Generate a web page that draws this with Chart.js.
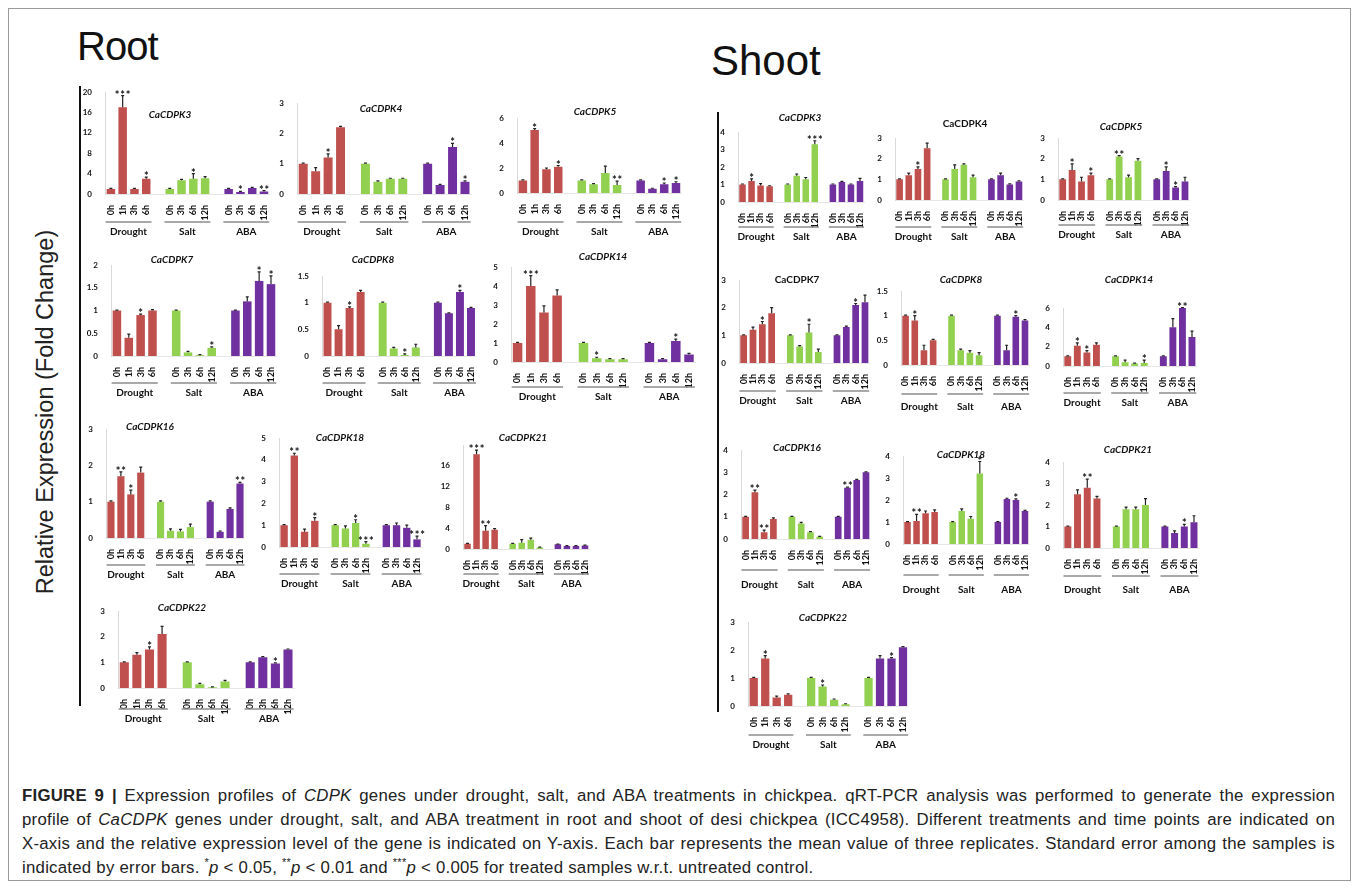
<!DOCTYPE html>
<html>
<head>
<meta charset="utf-8">
<script src="https://cdn.jsdelivr.net/npm/chart.js@4.4.1/dist/chart.umd.min.js"></script>
<style>
  html, body { margin: 0; padding: 0; background: #fff; }
  body { width: 1358px; height: 889px; position: relative; overflow: hidden; font-family: "Liberation Sans", Arial, sans-serif; }
  .frame { position: absolute; left: 8px; top: 8px; width: 1341px; height: 871px; border: 1px solid #9a9a9a; }
  .big { position: absolute; font-size: 40px; color: #111; line-height: 1; }
  .vline { position: absolute; width: 2px; background: #111; }
  .ylab { position: absolute; left: 45px; top: 412px; transform: translate(-50%, -50%) rotate(-90deg); font-size: 23.5px; color: #222; white-space: nowrap; }
  canvas { position: absolute; }
  .cap { position: absolute; left: 22px; font-size: 16.8px; letter-spacing: 0.25px; color: #222; white-space: nowrap; line-height: 20px; }
  .cap.j { width: 1313px; text-align: justify; text-align-last: justify; white-space: normal; }
  .cap b { font-weight: bold; }
  .cap sup { font-size: 11px; line-height: 0; }
</style>
</head>
<body>
<div class="frame"></div>
<div class="big" style="left:77px; top:26px; letter-spacing:-1px;">Root</div>
<div class="big" style="left:711px; top:40px; font-size:42px;">Shoot</div>
<div class="vline" style="left:79px; top:86px; height:620px;"></div>
<div class="vline" style="left:717px; top:112px; height:600px;"></div>
<div class="ylab">Relative Expression (Fold Change)</div>

<div class="cap j" style="top:786px;"><b>FIGURE 9 |</b> Expression profiles of <i>CDPK</i> genes under drought, salt, and ABA treatments in chickpea. qRT-PCR analysis was performed to generate the expression</div>
<div class="cap j" style="top:810px;">profile of <i>CaCDPK</i> genes under drought, salt, and ABA treatment in root and shoot of desi chickpea (ICC4958). Different treatments and time points are indicated on</div>
<div class="cap j" style="top:834px;">X-axis and the relative expression level of the gene is indicated on Y-axis. Each bar represents the mean value of three replicates. Standard error among the samples is</div>
<div class="cap" style="top:858px;">indicated by error bars. <sup>*</sup><i>p</i> &lt; 0.05, <sup>**</sup><i>p</i> &lt; 0.01 and <sup>***</sup><i>p</i> &lt; 0.005 for treated samples w.r.t. untreated control.</div>

<script>
// tick labels (empty slot = gap between treatments)
const timeLabels = ['0h','1h','3h','6h','','0h','3h','6h','12h','','0h','3h','6h','12h'];
const treatments = ['Drought','Salt','ABA'];

// Root - values (Drought 0h,1h,3h,6h | Salt 0h,3h,6h,12h | ABA 0h,3h,6h,12h), errors, stars
const rootK3 = [1.0, 17.0, 1.0, 3.0, 1.0, 2.7, 3.0, 3.1, 1.0, 0.4, 1.2, 0.5];
const rootK3Err = [0.1, 2.3, 0.1, 0.3, 0.1, 0.15, 1.0, 0.3, 0.1, 0.1, 0.1, 0.15];
const rootK3Sig = [0,3,0,1, 0,0,1,0, 0,1,0,2];

const rootK4 = [1.0, 0.75, 1.2, 2.2, 1.0, 0.4, 0.5, 0.5, 1.0, 0.3, 1.55, 0.4];
const rootK4Err = [0.02, 0.12, 0.12, 0.03, 0.02, 0.03, 0.02, 0.02, 0.02, 0.02, 0.12, 0.03];
const rootK4Sig = [0,0,1,0, 0,0,0,0, 0,0,1,1];

const rootK5 = [1.0, 5.05, 1.9, 2.1, 1.0, 0.7, 1.6, 0.65, 1.0, 0.35, 0.7, 0.8];
const rootK5Err = [0.05, 0.1, 0.1, 0.1, 0.05, 0.05, 0.55, 0.3, 0.05, 0.03, 0.1, 0.1];
const rootK5Sig = [0,1,0,1, 0,0,0,2, 0,0,1,1];

const rootK7 = [1.0, 0.4, 0.9, 1.0, 1.0, 0.08, 0.02, 0.18, 1.0, 1.2, 1.65, 1.58];
const rootK7Err = [0.01, 0.08, 0.02, 0.02, 0.01, 0.02, 0.01, 0.02, 0.01, 0.1, 0.2, 0.18];
const rootK7Sig = [0,0,1,0, 0,0,0,1, 0,0,1,1];

const rootK8 = [1.0, 0.5, 0.9, 1.2, 1.0, 0.14, 0.02, 0.16, 1.0, 0.8, 1.2, 0.9];
const rootK8Err = [0.01, 0.07, 0.02, 0.03, 0.01, 0.02, 0.02, 0.06, 0.01, 0.01, 0.03, 0.01];
const rootK8Sig = [0,0,1,0, 0,0,1,0, 0,0,1,0];

const rootK14 = [1.0, 4.0, 2.6, 3.5, 1.0, 0.2, 0.15, 0.15, 1.0, 0.15, 1.1, 0.4];
const rootK14Err = [0.03, 0.55, 0.35, 0.3, 0.03, 0.05, 0.03, 0.03, 0.03, 0.03, 0.1, 0.05];
const rootK14Sig = [0,3,0,0, 0,1,0,0, 0,0,1,0];

const rootK16 = [1.0, 1.7, 1.2, 1.8, 1.0, 0.2, 0.18, 0.3, 1.0, 0.17, 0.8, 1.5];
const rootK16Err = [0.02, 0.12, 0.12, 0.15, 0.02, 0.05, 0.06, 0.08, 0.02, 0.02, 0.03, 0.03];
const rootK16Sig = [0,2,1,0, 0,0,0,0, 0,0,0,2];

const rootK18 = [1.0, 4.2, 0.7, 1.2, 1.0, 0.85, 1.1, 0.15, 1.0, 1.0, 0.88, 0.35];
const rootK18Err = [0.03, 0.1, 0.12, 0.15, 0.03, 0.12, 0.15, 0.1, 0.03, 0.1, 0.12, 0.15];
const rootK18Sig = [0,2,0,1, 0,0,1,3, 0,0,0,3];

const rootK21 = [1.0, 18.2, 3.5, 3.7, 1.0, 1.2, 1.8, 0.3, 0.9, 0.6, 0.6, 0.65];
const rootK21Err = [0.1, 0.8, 1.0, 0.2, 0.1, 0.6, 0.3, 0.05, 0.05, 0.05, 0.05, 0.1];
const rootK21Sig = [0,3,2,0, 0,0,0,0, 0,0,0,0];

const rootK22 = [1.0, 1.3, 1.5, 2.1, 1.0, 0.15, 0.03, 0.25, 1.0, 1.2, 0.95, 1.5];
const rootK22Err = [0.02, 0.08, 0.1, 0.3, 0.02, 0.03, 0.01, 0.05, 0.02, 0.02, 0.03, 0.02];
const rootK22Sig = [0,0,1,0, 0,0,0,0, 0,0,1,0];

// Shoot
const shootK3 = [1.0, 1.2, 0.95, 0.9, 1.0, 1.5, 1.3, 3.3, 1.0, 1.15, 1.0, 1.2];
const shootK3Err = [0.03, 0.12, 0.1, 0.03, 0.03, 0.1, 0.1, 0.2, 0.03, 0.03, 0.03, 0.15];
const shootK3Sig = [0,1,0,0, 0,0,0,3, 0,0,0,0];

const shootK4 = [1.0, 1.2, 1.5, 2.5, 1.0, 1.5, 1.7, 1.1, 1.0, 1.2, 0.75, 0.9];
const shootK4Err = [0.02, 0.1, 0.1, 0.25, 0.02, 0.2, 0.05, 0.1, 0.02, 0.1, 0.03, 0.03];
const shootK4Sig = [0,0,1,0, 0,0,0,0, 0,0,0,0];

const shootK5 = [1.0, 1.45, 0.9, 1.2, 1.0, 2.1, 1.1, 1.9, 1.0, 1.4, 0.6, 0.9];
const shootK5Err = [0.02, 0.3, 0.2, 0.1, 0.02, 0.05, 0.1, 0.1, 0.02, 0.2, 0.05, 0.2];
const shootK5Sig = [0,1,0,1, 0,2,0,0, 0,1,1,0];

const shootK7 = [1.0, 1.2, 1.4, 1.8, 1.0, 0.6, 1.1, 0.4, 1.0, 1.3, 2.1, 2.2];
const shootK7Err = [0.02, 0.1, 0.1, 0.2, 0.02, 0.03, 0.3, 0.1, 0.02, 0.03, 0.05, 0.25];
const shootK7Sig = [0,0,1,0, 0,0,1,0, 0,0,1,0];

const shootK8 = [1.0, 0.9, 0.3, 0.5, 1.0, 0.3, 0.25, 0.2, 1.0, 0.3, 0.98, 0.9];
const shootK8Err = [0.01, 0.1, 0.1, 0.02, 0.01, 0.02, 0.04, 0.05, 0.01, 0.1, 0.02, 0.02];
const shootK8Sig = [0,1,0,0, 0,0,0,0, 0,0,1,0];

const shootK14 = [1.0, 2.1, 1.4, 2.2, 1.0, 0.4, 0.25, 0.3, 1.0, 4.0, 6.0, 3.0];
const shootK14Err = [0.05, 0.3, 0.2, 0.2, 0.05, 0.2, 0.05, 0.3, 0.05, 0.9, 0.05, 0.6];
const shootK14Sig = [0,1,1,0, 0,0,0,1, 0,0,2,0];

const shootK16 = [1.0, 2.1, 0.3, 0.9, 1.0, 0.7, 0.3, 0.1, 1.0, 2.3, 2.65, 3.0];
const shootK16Err = [0.02, 0.1, 0.1, 0.05, 0.02, 0.05, 0.03, 0.02, 0.02, 0.03, 0.03, 0.02];
const shootK16Sig = [0,2,2,0, 0,0,0,0, 0,2,0,0];

const shootK18 = [1.0, 1.05, 1.4, 1.45, 1.0, 1.5, 1.15, 3.2, 1.0, 2.05, 2.0, 1.5];
const shootK18Err = [0.02, 0.3, 0.1, 0.1, 0.02, 0.1, 0.1, 0.55, 0.02, 0.03, 0.05, 0.03];
const shootK18Sig = [0,2,0,0, 0,0,0,1, 0,0,1,0];

const shootK21 = [1.0, 2.5, 2.8, 2.3, 1.0, 1.8, 1.8, 2.0, 1.0, 0.7, 1.0, 1.2];
const shootK21Err = [0.02, 0.2, 0.4, 0.1, 0.02, 0.1, 0.1, 0.3, 0.02, 0.1, 0.1, 0.3];
const shootK21Sig = [0,0,2,0, 0,0,0,0, 0,0,1,0];

const shootK22 = [1.0, 1.7, 0.3, 0.4, 1.0, 0.7, 0.22, 0.06, 1.0, 1.7, 1.7, 2.1];
const shootK22Err = [0.02, 0.1, 0.05, 0.03, 0.02, 0.05, 0.03, 0.02, 0.02, 0.1, 0.03, 0.02];
const shootK22Sig = [0,1,0,0, 0,1,0,0, 0,0,1,0];

const red = '#c0504d', green = '#92d050', purple = '#7030a0';

// panel placement: F/L = first/last bar centre x, T/B = y of top tick / zero, t = title centre
const panels = [
  { name: 'CaCDPK3', it: true, v: rootK3, e: rootK3Err, s: rootK3Sig, F: 111, L: 266, T: 92, B: 194, max: 20, step: 4, tx: 170, ty: 115, gl: 28 },
  { name: 'CaCDPK4', it: true, v: rootK4, e: rootK4Err, s: rootK4Sig, F: 303, L: 467, T: 103, B: 194, max: 3, step: 1, tx: 381, ty: 109, gl: 28 },
  { name: 'CaCDPK5', it: true, v: rootK5, e: rootK5Err, s: rootK5Sig, F: 523, L: 678, T: 118, B: 193, max: 6, step: 1, tx: 595, ty: 112, gl: 29 },
  { name: 'CaCDPK7', it: true, v: rootK7, e: rootK7Err, s: rootK7Sig, F: 117, L: 273, T: 265, B: 356, max: 2, step: 0.5, tx: 172, ty: 260, gl: 27 },
  { name: 'CaCDPK8', it: true, v: rootK8, e: rootK8Err, s: rootK8Sig, F: 328, L: 473, T: 276, B: 356, max: 1.5, step: 0.5, tx: 373, ty: 260, gl: 27 },
  { name: 'CaCDPK14', it: true, v: rootK14, e: rootK14Err, s: rootK14Sig, F: 518, L: 690, T: 267, B: 362, max: 5, step: 1, tx: 603, ty: 257, gl: 25 },
  { name: 'CaCDPK16', it: true, v: rootK16, e: rootK16Err, s: rootK16Sig, F: 111, L: 243, T: 429, B: 538, max: 3, step: 1, tx: 150, ty: 427, gl: 27 },
  { name: 'CaCDPK18', it: true, v: rootK18, e: rootK18Err, s: rootK18Sig, F: 284, L: 420, T: 438, B: 547, max: 5, step: 1, tx: 340, ty: 438, gl: 27 },
  { name: 'CaCDPK21', it: true, v: rootK21, e: rootK21Err, s: rootK21Sig, F: 468, L: 588, T: 445, B: 549, max: 20, step: 4, hideTop: true, tx: 523, ty: 438, gl: 25 },
  { name: 'CaCDPK22', it: true, v: rootK22, e: rootK22Err, s: rootK22Sig, F: 124, L: 290, T: 611, B: 688, max: 3, step: 1, tx: 182, ty: 608, gl: 21 },

  { name: 'CaCDPK3', it: true, v: shootK3, e: shootK3Err, s: shootK3Sig, F: 743, L: 863, T: 132, B: 202, max: 4, step: 1, tx: 800, ty: 118, gl: 25 },
  { name: 'CaCDPK4', it: false, v: shootK4, e: shootK4Err, s: shootK4Sig, F: 900, L: 1022, T: 138, B: 200, max: 3, step: 1, tx: 965, ty: 124, gl: 27 },
  { name: 'CaCDPK5', it: true, v: shootK5, e: shootK5Err, s: shootK5Sig, F: 1063, L: 1188, T: 138, B: 200, max: 3, step: 1, tx: 1121, ty: 127, gl: 25 },
  { name: 'CaCDPK7', it: false, v: shootK7, e: shootK7Err, s: shootK7Sig, F: 744, L: 868, T: 280, B: 363, max: 3, step: 1, tx: 797, ty: 280, gl: 28 },
  { name: 'CaCDPK8', it: true, v: shootK8, e: shootK8Err, s: shootK8Sig, F: 906, L: 1028, T: 291, B: 365, max: 1.5, step: 0.5, tx: 961, ty: 280, gl: 29, lab: 13 },
  { name: 'CaCDPK14', it: true, v: shootK14, e: shootK14Err, s: shootK14Sig, F: 1068, L: 1195, T: 308, B: 366, max: 6, step: 2, tx: 1129, ty: 280, gl: 27 },
  { name: 'CaCDPK16', it: true, v: shootK16, e: shootK16Err, s: shootK16Sig, F: 746, L: 869, T: 450, B: 539, max: 4, step: 1, tx: 797, ty: 448, gl: 31, lab: 15 },
  { name: 'CaCDPK18', it: true, v: shootK18, e: shootK18Err, s: shootK18Sig, F: 908, L: 1028, T: 456, B: 544, max: 4, step: 1, tx: 961, ty: 455, gl: 31, lab: 15 },
  { name: 'CaCDPK21', it: true, v: shootK21, e: shootK21Err, s: shootK21Sig, F: 1068, L: 1197, T: 462, B: 548, max: 4, step: 1, tx: 1128, ty: 450, gl: 28, lab: 14 },
  { name: 'CaCDPK22', it: true, v: shootK22, e: shootK22Err, s: shootK22Sig, F: 754, L: 905, T: 622, B: 706, max: 3, step: 1, tx: 823, ty: 618, gl: 29, recolor: { 8: green } }
];

const YW = 24, PT = 18, PR = 6, XH = 58;

// put the 12 values into the 14 slots (gaps at 4 and 9)
function slots(arr) {
  let out = [];
  arr.forEach((d, i) => {
    if (i === 4 || i === 8) out.push(null);
    out.push(d);
  });
  return out;
}

const extras = {
  id: 'extras',
  afterDatasetsDraw(chart) {
    const p = chart.options.plugins.extras;
    const ctx = chart.ctx, xs = chart.scales.x, ys = chart.scales.y, area = chart.chartArea;
    const sp = xs.getPixelForValue(1) - xs.getPixelForValue(0);
    const vals = slots(p.v), errs = slots(p.e), sig = slots(p.s);
    ctx.save();
    // error bars and stars
    vals.forEach((d, i) => {
      if (d === null) return;
      let x = xs.getPixelForValue(i);
      let y0 = ys.getPixelForValue(d);
      let y1 = ys.getPixelForValue(d + errs[i]);
      ctx.strokeStyle = '#222';
      ctx.lineWidth = 1.2;
      ctx.beginPath();
      ctx.moveTo(x, y0);
      ctx.lineTo(x, y1);
      ctx.moveTo(x - 1.5, y1);
      ctx.lineTo(x + 1.5, y1);
      ctx.stroke();
      if (sig[i] > 0) {
        ctx.fillStyle = '#111';
        ctx.font = 'bold 11px Lato';
        ctx.textAlign = 'center';
        ctx.textBaseline = 'alphabetic';
        for (let k = 0; k < sig[i]; k++) {
          ctx.fillText('*', x + (k - (sig[i] - 1) / 2) * 5.5, y1 + 3);
        }
      }
    });
    // treatment lines and names
    const gy = area.bottom + p.gl;
    treatments.forEach((t, g) => {
      let a = xs.getPixelForValue(g * 5) - 0.45 * sp;
      let b = xs.getPixelForValue(g * 5 + 3) + 0.45 * sp;
      ctx.strokeStyle = '#8c8c8c';
      ctx.lineWidth = 1.5;
      ctx.beginPath();
      ctx.moveTo(a, gy);
      ctx.lineTo(b, gy);
      ctx.stroke();
      ctx.fillStyle = '#111';
      ctx.font = 'bold 10px Lato';
      ctx.textAlign = 'center';
      ctx.textBaseline = 'middle';
      ctx.fillText(t, (a + b) / 2, gy + (p.lab || 10));
    });
    // gene name
    ctx.fillStyle = '#111';
    ctx.font = (p.it ? 'italic ' : '') + 'bold 10px Lato';
    ctx.textAlign = 'center';
    ctx.textBaseline = 'middle';
    ctx.fillText(p.name, p.tx - p.left, p.ty - p.top);
    ctx.restore();
  }
};

panels.forEach(p => {
  const sp = (p.L - p.F) / 13;
  const areaL = p.F - sp / 2, areaR = p.L + sp / 2;
  p.left = Math.round(areaL - YW);
  p.top = Math.min(p.T - PT, p.ty - 10);
  const padTop = p.T - p.top;
  const w = Math.round(areaR - p.left + PR);
  const h = p.B - p.top + XH;

  const cv = document.createElement('canvas');
  cv.width = w; cv.height = h;
  cv.style.left = p.left + 'px';
  cv.style.top = p.top + 'px';
  cv.style.width = w + 'px';
  cv.style.height = h + 'px';
  document.body.appendChild(cv);

  const group = i => i < 4 ? red : (i < 9 ? green : purple);
  const colors = timeLabels.map((l, i) => {
    const k = i < 4 ? i : (i < 9 ? i - 1 : i - 2);
    if (p.recolor && p.recolor[k]) return p.recolor[k];
    return group(i);
  });

  new Chart(cv, {
    type: 'bar',
    data: {
      labels: timeLabels,
      datasets: [{
        data: slots(p.v),
        backgroundColor: colors,
        borderWidth: 0,
        barPercentage: 0.72,
        categoryPercentage: 1
      }]
    },
    options: {
      responsive: false,
      animation: false,
      devicePixelRatio: 1,
      layout: { padding: { top: padTop, right: PR, left: 0, bottom: 0 } },
      scales: {
        x: {
          grid: { display: false },
          border: { display: true, color: '#e6e6e6' },
          ticks: {
            autoSkip: false, minRotation: 90, maxRotation: 90, padding: 3,
            color: '#111', font: { family: 'Lato', weight: 'bold', size: 9 }
          },
          afterFit: s => { s.height = XH; }
        },
        y: {
          min: 0, max: p.max,
          grid: { display: false },
          border: { display: true, color: '#d9d9d9' },
          ticks: {
            stepSize: p.step, padding: 5,
            color: '#111', font: { family: 'Lato', weight: 'bold', size: 8 },
            callback: v => (p.hideTop && v === p.max) ? '' : v
          },
          afterFit: s => { s.width = YW; }
        }
      },
      plugins: {
        legend: { display: false },
        tooltip: { enabled: false },
        extras: p
      }
    },
    plugins: [extras]
  });
});
</script>
</body>
</html>
